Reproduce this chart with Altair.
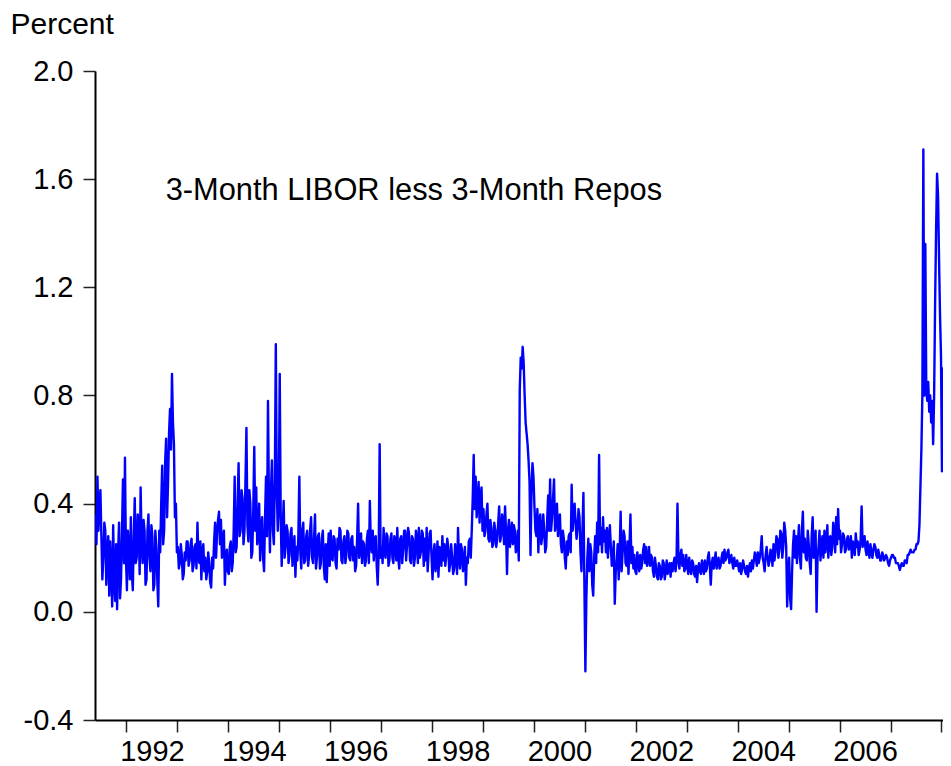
import altair as alt
import pandas as pd

# ---- series values (3-Month LIBOR less 3-Month Repos, percent) ----
# For each year: v = readings at the first half of each two-week slot, w = readings at the second half
v1991 = [0.36, 0.50, 0.39, 0.28, 0.20, 0.30, 0.23, 0.06, 0.15, 0.32, 0.04, 0.01, 0.33, 0.12, 0.49, 0.57]
w1991 = [0.25, 0.30, 0.45, 0.12, 0.33, 0.10, 0.28, 0.26, 0.02, 0.12, 0.25, 0.22, 0.05, 0.30, 0.18, 0.20]
v1992 = [0.08, 0.22, 0.35, 0.08, 0.42, 0.20, 0.33, 0.46, 0.18, 0.30, 0.12, 0.36, 0.15,
         0.28, 0.10, 0.24, 0.02, 0.22, 0.54, 0.30, 0.64, 0.48, 0.75, 0.88, 0.62, 0.40]
w1992 = [0.30, 0.12, 0.15, 0.28, 0.18, 0.36, 0.14, 0.25, 0.34, 0.10, 0.30, 0.20, 0.32,
         0.08, 0.30, 0.12, 0.30, 0.40, 0.25, 0.55, 0.35, 0.66, 0.60, 0.70, 0.35, 0.22]
v1993 = [0.24, 0.18, 0.21, 0.14, 0.19, 0.26, 0.19, 0.27, 0.17, 0.25, 0.33, 0.18, 0.12,
         0.25, 0.20, 0.15, 0.18, 0.09, 0.16, 0.33, 0.29, 0.37, 0.34, 0.24, 0.10, 0.23]
w1993 = [0.16, 0.25, 0.12, 0.22, 0.26, 0.17, 0.25, 0.15, 0.24, 0.16, 0.20, 0.26, 0.22,
         0.15, 0.12, 0.22, 0.11, 0.20, 0.26, 0.20, 0.34, 0.25, 0.20, 0.30, 0.20, 0.15]
v1994 = [0.14, 0.26, 0.18, 0.50, 0.24, 0.55, 0.30, 0.42, 0.30, 0.68, 0.26, 0.40, 0.22,
         0.61, 0.46, 0.30, 0.19, 0.35, 0.15, 0.50, 0.78, 0.22, 0.56, 0.25, 0.99, 0.30]
w1994 = [0.24, 0.15, 0.30, 0.22, 0.40, 0.28, 0.45, 0.25, 0.48, 0.32, 0.45, 0.20, 0.38,
         0.30, 0.25, 0.40, 0.30, 0.20, 0.35, 0.28, 0.40, 0.45, 0.30, 0.50, 0.45, 0.40]
v1995 = [0.88, 0.17, 0.41, 0.24, 0.30, 0.21, 0.31, 0.23, 0.13, 0.19, 0.50, 0.16, 0.33,
         0.19, 0.30, 0.21, 0.35, 0.18, 0.36, 0.20, 0.29, 0.18, 0.30, 0.12, 0.11, 0.29]
w1995 = [0.35, 0.30, 0.20, 0.32, 0.18, 0.29, 0.17, 0.28, 0.24, 0.28, 0.22, 0.30, 0.18,
         0.28, 0.17, 0.30, 0.20, 0.27, 0.16, 0.28, 0.16, 0.27, 0.17, 0.25, 0.22, 0.17]
v1996 = [0.30, 0.19, 0.27, 0.16, 0.23, 0.30, 0.18, 0.28, 0.21, 0.29, 0.19, 0.28, 0.24,
         0.17, 0.40, 0.23, 0.18, 0.25, 0.19, 0.30, 0.41, 0.22, 0.19, 0.28, 0.10, 0.62]
w1996 = [0.20, 0.28, 0.18, 0.27, 0.31, 0.19, 0.26, 0.18, 0.30, 0.20, 0.27, 0.19, 0.15,
         0.27, 0.20, 0.29, 0.26, 0.17, 0.27, 0.18, 0.25, 0.30, 0.27, 0.17, 0.22, 0.20]
v1997 = [0.24, 0.31, 0.20, 0.28, 0.19, 0.29, 0.18, 0.26, 0.31, 0.16, 0.28, 0.23, 0.30,
         0.25, 0.29, 0.18, 0.27, 0.20, 0.27, 0.31, 0.22, 0.29, 0.27, 0.31, 0.22, 0.30]
w1997 = [0.18, 0.22, 0.29, 0.17, 0.27, 0.20, 0.28, 0.19, 0.20, 0.27, 0.18, 0.30, 0.19,
         0.31, 0.19, 0.28, 0.17, 0.30, 0.18, 0.20, 0.30, 0.17, 0.19, 0.15, 0.29, 0.20]
v1998 = [0.12, 0.25, 0.18, 0.13, 0.23, 0.28, 0.25, 0.21, 0.24, 0.18, 0.20, 0.16, 0.20,
         0.31, 0.16, 0.23, 0.18, 0.10, 0.18, 0.27, 0.30, 0.58, 0.50, 0.40, 0.33, 0.46]
w1998 = [0.22, 0.15, 0.26, 0.24, 0.17, 0.19, 0.17, 0.27, 0.15, 0.25, 0.14, 0.25, 0.14,
         0.20, 0.25, 0.15, 0.24, 0.20, 0.26, 0.20, 0.42, 0.38, 0.35, 0.48, 0.42, 0.30]
v1999 = [0.38, 0.30, 0.40, 0.26, 0.31, 0.25, 0.30, 0.27, 0.39, 0.28, 0.33, 0.39, 0.14,
         0.34, 0.28, 0.25, 0.30, 0.24, 0.19, 0.94, 0.98, 0.80, 0.66, 0.56, 0.21, 0.55]
w1999 = [0.28, 0.36, 0.27, 0.34, 0.24, 0.33, 0.24, 0.33, 0.26, 0.36, 0.25, 0.30, 0.30,
         0.24, 0.33, 0.32, 0.22, 0.30, 0.82, 0.90, 0.92, 0.70, 0.62, 0.48, 0.45, 0.50]
v2000 = [0.39, 0.28, 0.22, 0.36, 0.28, 0.30, 0.24, 0.43, 0.49, 0.35, 0.49, 0.34, 0.28,
         0.36, 0.22, 0.27, 0.16, 0.21, 0.29, 0.47, 0.36, 0.33, 0.31, 0.35, 0.15, 0.44]
w2000 = [0.30, 0.38, 0.34, 0.25, 0.36, 0.22, 0.34, 0.30, 0.30, 0.42, 0.30, 0.40, 0.35,
         0.25, 0.30, 0.20, 0.26, 0.28, 0.22, 0.30, 0.40, 0.27, 0.38, 0.22, 0.30, 0.10]
v2001 = [-0.22, 0.20, 0.15, 0.22, 0.06, 0.28, 0.33, 0.58, 0.31, 0.35, 0.30, 0.31, 0.27,
         0.24, 0.20, 0.03, 0.19, 0.12, 0.37, 0.22, 0.28, 0.17, 0.14, 0.36, 0.24, 0.21]
w2001 = [0.05, 0.27, 0.25, 0.10, 0.20, 0.18, 0.22, 0.25, 0.22, 0.26, 0.22, 0.20, 0.32,
         0.17, 0.26, 0.15, 0.25, 0.22, 0.15, 0.30, 0.18, 0.26, 0.24, 0.18, 0.16, 0.15]
v2002 = [0.14, 0.19, 0.21, 0.18, 0.25, 0.24, 0.19, 0.17, 0.20, 0.13, 0.17, 0.12, 0.17,
         0.13, 0.18, 0.15, 0.14, 0.18, 0.18, 0.18, 0.15, 0.40, 0.16, 0.23, 0.21, 0.16]
w2002 = [0.22, 0.15, 0.16, 0.23, 0.18, 0.17, 0.24, 0.21, 0.15, 0.20, 0.13, 0.18, 0.12,
         0.19, 0.12, 0.19, 0.17, 0.13, 0.15, 0.20, 0.18, 0.20, 0.21, 0.17, 0.15, 0.21]
v2003 = [0.17, 0.20, 0.14, 0.18, 0.13, 0.11, 0.18, 0.14, 0.17, 0.19, 0.16, 0.22, 0.10,
         0.20, 0.19, 0.16, 0.20, 0.17, 0.22, 0.23, 0.20, 0.23, 0.19, 0.18, 0.20, 0.17]
w2003 = [0.14, 0.16, 0.19, 0.14, 0.17, 0.16, 0.15, 0.19, 0.14, 0.15, 0.20, 0.17, 0.18,
         0.16, 0.22, 0.19, 0.16, 0.20, 0.18, 0.19, 0.22, 0.18, 0.21, 0.16, 0.17, 0.19]
v2004 = [0.17, 0.18, 0.16, 0.17, 0.14, 0.13, 0.18, 0.19, 0.19, 0.20, 0.22, 0.20, 0.28,
         0.18, 0.21, 0.20, 0.19, 0.21, 0.25, 0.22, 0.27, 0.23, 0.29, 0.24, 0.30, 0.02]
w2004 = [0.15, 0.14, 0.19, 0.15, 0.17, 0.16, 0.15, 0.16, 0.22, 0.17, 0.18, 0.23, 0.20,
         0.15, 0.24, 0.17, 0.23, 0.17, 0.19, 0.28, 0.20, 0.30, 0.20, 0.33, 0.24, 0.15]
v2005 = [0.20, 0.01, 0.25, 0.20, 0.18, 0.32, 0.16, 0.37, 0.27, 0.19, 0.25, 0.14, 0.35,
         0.22, 0.00, 0.24, 0.19, 0.28, 0.30, 0.26, 0.20, 0.28, 0.24, 0.30, 0.35, 0.38]
w2005 = [0.05, 0.15, 0.30, 0.28, 0.26, 0.20, 0.30, 0.22, 0.20, 0.30, 0.18, 0.28, 0.20,
         0.30, 0.20, 0.30, 0.25, 0.20, 0.22, 0.32, 0.27, 0.21, 0.33, 0.22, 0.25, 0.27]
v2006 = [0.30, 0.25, 0.28, 0.23, 0.28, 0.24, 0.20, 0.24, 0.29, 0.26, 0.23, 0.39, 0.25,
         0.23, 0.26, 0.20, 0.22, 0.23, 0.24, 0.20, 0.21, 0.19, 0.21, 0.20, 0.20, 0.17]
w2006 = [0.22, 0.29, 0.22, 0.27, 0.23, 0.28, 0.26, 0.21, 0.24, 0.21, 0.27, 0.24, 0.28,
         0.21, 0.23, 0.25, 0.20, 0.25, 0.21, 0.23, 0.19, 0.22, 0.19, 0.21, 0.18, 0.19]
# weekly readings for 2007 and the first weeks of 2008
v2007 = [0.20, 0.21, 0.21, 0.20, 0.20, 0.18, 0.18, 0.18, 0.17, 0.155, 0.17, 0.18, 0.17,
         0.17, 0.19, 0.19, 0.18, 0.21, 0.21, 0.22, 0.23, 0.22, 0.22, 0.22, 0.23, 0.23,
         0.25, 0.25, 0.26, 0.32, 0.46, 0.60, 0.80, 1.71, 0.80, 1.36, 0.82, 0.78, 0.85,
         0.74, 0.80, 0.70, 0.78, 0.62, 0.80, 1.14, 1.41, 1.62, 1.54, 1.31, 1.10, 0.95]
v2008 = [0.52, 0.90, 0.55]

# period covered by each pair of lists (fractional years)
periods = [
    (1991.383, 1992.0, v1991, w1991), (1992, 1993, v1992, w1992), (1993, 1994, v1993, w1993),
    (1994, 1995, v1994, w1994), (1995, 1996, v1995, w1995), (1996, 1997, v1996, w1996),
    (1997, 1998, v1997, w1997), (1998, 1999, v1998, w1998), (1999, 2000, v1999, w1999),
    (2000, 2001, v2000, w2000), (2001, 2002, v2001, w2001), (2002, 2003, v2002, w2002),
    (2003, 2004, v2003, w2003), (2004, 2005, v2004, w2004), (2005, 2006, v2005, w2005),
    (2006, 2007, v2006, w2006), (2007, 2008, v2007, None), (2008, 2008.06, v2008, None),
]

# axis ticks / labels
year_ticks = list(range(1992, 2009))
y_ticks = [-0.4, 0.0, 0.4, 0.8, 1.2, 1.6, 2.0]

# annotation
ann_text = ["3-Month LIBOR less 3-Month Repos"]
ann_x = [1992.77]
ann_y = [1.523]

rows = []
for start, end, vals, vals2 in periods:
    n = len(vals)
    step = (end - start) / n
    for i, v in enumerate(vals):
        if vals2 is None:
            rows.append({"t": start + (i + 0.5) * step, "value": v})
        else:
            rows.append({"t": start + (i + 0.25) * step, "value": v})
            rows.append({"t": start + (i + 0.75) * step, "value": vals2[i]})
df = pd.DataFrame(rows)
ann = pd.DataFrame({"t": ann_x, "value": ann_y, "label": ann_text})

FONT = "Liberation Sans"

xscale = alt.Scale(domain=[1991.383, 2008.03], nice=False, zero=False)
yscale = alt.Scale(domain=[-0.4, 2.0], nice=False, zero=False)

line = alt.Chart(df).mark_line(
    color="#0000FF", strokeWidth=2.4, strokeJoin="round", clip=True
).encode(
    x=alt.X("t:Q", scale=xscale, axis=alt.Axis(
        values=year_ticks, title=None, grid=False,
        labelExpr="datum.value % 2 == 0 && datum.value < 2008 ? format(datum.value, 'd') : ''",
        labelOffset=25.5, labelFlush=False, labelOverlap=False,
        labelFontSize=29, labelFont=FONT, labelColor="black", labelPadding=5,
        tickSize=12, tickColor="#222222", tickWidth=1.5,
        domainColor="black", domainWidth=2,
    )),
    y=alt.Y("value:Q", scale=yscale, axis=alt.Axis(
        values=y_ticks, grid=False,
        labelExpr="datum.value < 0 ? '-' + format(-datum.value, '.1f') : format(datum.value, '.1f')",
        labelFontSize=29, labelFont=FONT, labelColor="black", labelPadding=10,
        labelOverlap=False, labelFlush=False,
        tickSize=12, tickColor="#222222", tickWidth=1.5,
        domainColor="black", domainWidth=2,
        title="Percent", titleAngle=0, titleAlign="left", titleBaseline="alphabetic",
        titleX=-85, titleY=-38, titleFontSize=30, titleFont=FONT,
        titleFontWeight="normal", titleColor="black",
    )),
)

text = alt.Chart(ann).mark_text(
    align="left", baseline="alphabetic", fontSize=30.8, font=FONT, color="black"
).encode(
    x=alt.X("t:Q", scale=xscale),
    y=alt.Y("value:Q", scale=yscale),
    text="label:N",
)

chart = alt.layer(line, text).properties(
    width=848, height=649,
    autosize=alt.AutoSizeParams(type="none"),
    padding={"left": 87, "top": 63, "right": 0, "bottom": 46},
    background="white",
).configure_view(stroke=None)

chart.save("out.html", embed_options={"renderer": "svg", "actions": False})
